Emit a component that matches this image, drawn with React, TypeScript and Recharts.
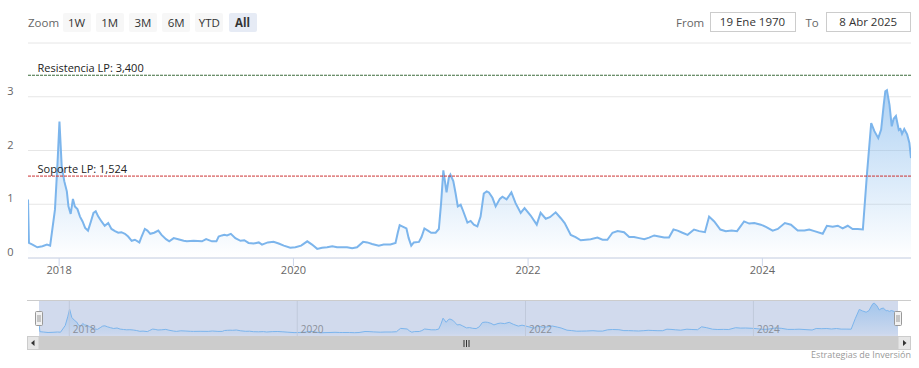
import React from 'react';
import { AreaChart, Area, XAxis, YAxis, CartesianGrid, ReferenceLine } from 'recharts';

const dates = [
  '2017-09-26','2017-09-29','2017-10-10','2017-10-25','2017-11-10','2017-11-24','2017-12-04','2017-12-19','2017-12-27',
  '2018-01-02','2018-01-09','2018-01-17','2018-01-25','2018-01-30','2018-02-06','2018-02-13','2018-02-19','2018-02-27','2018-03-07','2018-03-15','2018-03-23','2018-04-01','2018-04-10','2018-04-18','2018-04-25','2018-05-03','2018-05-13','2018-05-23','2018-06-03','2018-06-13','2018-06-24','2018-07-04','2018-07-14','2018-07-25','2018-08-04','2018-08-15','2018-08-25','2018-09-08','2018-09-15','2018-09-25','2018-10-03','2018-10-12','2018-10-24','2018-11-06','2018-11-16','2018-11-30','2018-12-10','2018-12-24',
  '2019-01-07','2019-01-24','2019-02-03','2019-02-24','2019-03-22','2019-04-04','2019-04-22','2019-05-06','2019-05-13','2019-05-23','2019-05-31','2019-06-08','2019-06-20','2019-07-04','2019-07-20','2019-08-01','2019-08-14','2019-08-30','2019-09-15','2019-09-25','2019-10-13','2019-10-31','2019-11-16','2019-12-02','2019-12-22',
  '2020-01-07','2020-01-25','2020-02-13','2020-02-28','2020-03-15','2020-03-30','2020-04-15','2020-05-01','2020-05-16','2020-05-26','2020-06-16','2020-07-02','2020-07-17','2020-08-05','2020-08-18','2020-09-02','2020-09-23','2020-10-08','2020-10-29','2020-11-14','2020-11-21','2020-11-27','2020-12-08','2020-12-18','2020-12-25',
  '2021-01-02','2021-01-10','2021-01-26','2021-02-03','2021-02-12','2021-02-23','2021-03-05','2021-03-19','2021-03-29','2021-04-05','2021-04-12','2021-04-22','2021-04-29','2021-05-04','2021-05-13','2021-05-20','2021-05-27','2021-06-05','2021-06-13','2021-06-26','2021-07-06','2021-07-16','2021-07-27','2021-08-06','2021-08-16','2021-08-25','2021-09-01','2021-09-12','2021-09-22','2021-10-05','2021-10-13','2021-10-26','2021-11-10','2021-11-23','2021-12-09','2021-12-21',
  '2022-01-09','2022-01-28','2022-02-09','2022-02-25','2022-03-10','2022-03-28','2022-04-13','2022-04-25','2022-05-14','2022-05-29','2022-06-14','2022-06-30','2022-07-15','2022-08-05','2022-08-21','2022-09-05','2022-09-21','2022-10-07','2022-10-27','2022-11-12','2022-11-27','2022-12-13','2022-12-29',
  '2023-01-13','2023-01-29','2023-02-13','2023-03-01','2023-03-16','2023-03-30','2023-04-12','2023-04-27','2023-05-13','2023-06-02','2023-06-18','2023-07-06','2023-07-19','2023-08-04','2023-08-23','2023-09-09','2023-09-27','2023-10-14','2023-11-05','2023-11-21','2023-12-07','2023-12-27',
  '2024-01-12','2024-02-02','2024-02-18','2024-03-11','2024-03-30','2024-04-20','2024-05-11','2024-05-26','2024-06-11','2024-07-07','2024-07-20','2024-08-07','2024-08-23','2024-09-07','2024-09-23','2024-10-08','2024-10-24','2024-11-09','2024-11-22','2024-12-05','2024-12-15','2024-12-27',
  '2025-01-05','2025-01-13','2025-01-18','2025-01-23','2025-01-31','2025-02-07','2025-02-13','2025-02-20','2025-03-01','2025-03-06','2025-03-11','2025-03-18','2025-03-27','2025-04-03','2025-04-08',
];

const values = [
  1.09, 0.28, 0.25, 0.20, 0.22, 0.25, 0.23, 0.90, 1.77,
  2.54, 1.71, 1.43, 1.24, 0.96, 0.82, 1.10, 0.96, 0.91, 0.77, 0.68, 0.56, 0.51, 0.68, 0.84, 0.87, 0.77, 0.68, 0.60, 0.65, 0.54, 0.50, 0.47, 0.48, 0.45, 0.40, 0.32, 0.34, 0.29, 0.40, 0.54, 0.51, 0.45, 0.47, 0.51, 0.43, 0.35, 0.31, 0.37,
  0.35, 0.32, 0.31, 0.32, 0.31, 0.35, 0.31, 0.31, 0.40, 0.42, 0.43, 0.42, 0.45, 0.37, 0.32, 0.33, 0.28, 0.27, 0.29, 0.25, 0.29, 0.30, 0.27, 0.23, 0.19,
  0.20, 0.23, 0.31, 0.25, 0.17, 0.19, 0.20, 0.22, 0.20, 0.20, 0.20, 0.18, 0.20, 0.30, 0.29, 0.26, 0.23, 0.25, 0.25, 0.28, 0.47, 0.61, 0.58, 0.55, 0.37,
  0.23, 0.29, 0.30, 0.39, 0.55, 0.51, 0.47, 0.47, 0.54, 1.02, 1.63, 1.22, 1.49, 1.55, 1.43, 1.21, 0.96, 0.99, 0.87, 0.66, 0.69, 0.62, 0.59, 0.77, 1.20, 1.24, 1.22, 1.12, 0.96, 1.10, 1.14, 1.09, 1.22, 1.02, 0.84, 0.93,
  0.79, 0.62, 0.84, 0.73, 0.76, 0.85, 0.74, 0.65, 0.43, 0.39, 0.33, 0.34, 0.35, 0.38, 0.34, 0.34, 0.47, 0.50, 0.48, 0.39, 0.39, 0.37, 0.35,
  0.38, 0.42, 0.40, 0.38, 0.38, 0.53, 0.51, 0.47, 0.43, 0.53, 0.50, 0.48, 0.77, 0.68, 0.53, 0.50, 0.51, 0.50, 0.68, 0.64, 0.65, 0.62,
  0.58, 0.51, 0.54, 0.65, 0.62, 0.51, 0.51, 0.53, 0.50, 0.45, 0.60, 0.58, 0.60, 0.55, 0.60, 0.54, 0.54, 0.53, 1.58, 2.51, 2.36, 2.23,
  2.39, 2.85, 3.10, 3.12, 2.85, 2.45, 2.59, 2.64, 2.38, 2.40, 2.31, 2.40, 2.30, 2.14, 1.86,
];

const yTicks = [0, 1, 2, 3, 4];
const yearTickDates = ['2018-01-01', '2020-01-01', '2022-01-01', '2024-01-01'];
const rangeButtons = ['1W', '1M', '3M', '6M', 'YTD', 'All'];
const selectedRange = 'All';
const zoomLabel = 'Zoom';
const fromLabel = 'From';
const toLabel = 'To';
const fromValue = '19 Ene 1970';
const toValue = '8 Abr 2025';
const resistanceLabel = 'Resistencia LP';
const resistanceValue = 3.4;
const supportLabel = 'Soporte LP';
const supportValue = 1.524;
const creditsText = 'Estrategias de Inversión';

const toTs = (s: string) => Date.parse(s + 'T00:00:00Z');
const data = dates.map((d, i) => ({ t: toTs(d), v: values[i] }));
const yearTicks = yearTickDates.map(toTs);
const xDomain = [data[0].t, data[data.length - 1].t];
const fmt = (n: number) => n.toFixed(3).replace('.', ',');

const FONT = '"Open Sans", sans-serif';

const MainYTick = (props: any) => {
  const { y, payload } = props;
  if (payload.value === 4) return null;
  return (
    <text x={13.5} y={y - 2} textAnchor="end" fontSize={11} fill="#666" fontFamily={FONT}>
      {payload.value}
    </text>
  );
};

const MainXTick = (props: any) => {
  const { x, y, payload } = props;
  return (
    <text x={x} y={y + 6} textAnchor="middle" fontSize={11} fill="#666" fontFamily={FONT}>
      {new Date(payload.value).getUTCFullYear()}
    </text>
  );
};

const plotLineLabel = (text: string) => (props: any) => {
  const vb = props.viewBox || {};
  return (
    <text x={(vb.x || 0) + 9.5} y={(vb.y || 0) - 3.5} fontSize={11} fill="#222" fontFamily={FONT}>
      {text}
    </text>
  );
};

const navLabel = (text: string) => (props: any) => {
  const vb = props.viewBox || {};
  return (
    <text x={(vb.x || 0) + 3.5} y={33} fontSize={10} fill="#8a8f99" fontFamily={FONT}>
      {text}
    </text>
  );
};

export default function App() {
  return (
    <div style={{ position: 'absolute', left: 0, top: 0, width: 919, height: 368, background: '#fff', fontFamily: FONT, overflow: 'hidden' }}>
      {/* Range selector */}
      <div style={{ position: 'absolute', left: 28, top: 13, height: 19, lineHeight: '19px', fontSize: 11.5, color: '#666' }}>{zoomLabel}</div>
      {rangeButtons.map((b, i) => (
        <div
          key={b}
          style={{
            position: 'absolute', left: 62.5 + i * 33.2, top: 12.5, width: 28, height: 19, lineHeight: '19px',
            textAlign: 'center', fontSize: 11.5, color: '#333', fontWeight: b === selectedRange ? 700 : 400,
            background: b === selectedRange ? '#e6ebf5' : '#f7f7f7', borderRadius: 2,
          }}
        >
          {b}
        </div>
      ))}
      <div style={{ position: 'absolute', left: 676, top: 13, height: 19, lineHeight: '19px', fontSize: 11.5, color: '#666' }}>{fromLabel}</div>
      <div style={{ position: 'absolute', left: 709.5, top: 12, width: 84, height: 18, lineHeight: '18px', textAlign: 'center', fontSize: 11.5, color: '#333', border: '1px solid #ccc' }}>{fromValue}</div>
      <div style={{ position: 'absolute', left: 805.5, top: 13, height: 19, lineHeight: '19px', fontSize: 11.5, color: '#666' }}>{toLabel}</div>
      <div style={{ position: 'absolute', left: 825.5, top: 12, width: 83.5, height: 18, lineHeight: '18px', textAlign: 'center', fontSize: 11.5, color: '#333', border: '1px solid #ccc' }}>{toValue}</div>

      {/* Main chart */}
      <div style={{ position: 'absolute', left: 0, top: 0 }}>
        <AreaChart width={919} height={288} data={data} margin={{ top: 43, right: 8, left: 0, bottom: 0 }}>
          <defs>
            <linearGradient id="mainFill" x1="0" y1="0" x2="0" y2="1">
              <stop offset="0%" stopColor="#7cb5ec" stopOpacity={1} />
              <stop offset="100%" stopColor="#7cb5ec" stopOpacity={0} />
            </linearGradient>
          </defs>
          <CartesianGrid vertical={false} stroke="#e6e6e6" />
          <XAxis
            dataKey="t" type="number" domain={xDomain} ticks={yearTicks} interval={0} allowDataOverflow
            height={30} tickSize={8} tickMargin={2} axisLine={{ stroke: '#ccd6eb' }} tickLine={{ stroke: '#ccd6eb' }}
            tick={<MainXTick />}
          />
          <YAxis
            type="number" domain={[0, 4]} ticks={yTicks} interval={0} width={28}
            axisLine={false} tickLine={false} tick={<MainYTick />}
          />
          <Area
            type="linear" dataKey="v" stroke="#7cb5ec" strokeWidth={2} fill="url(#mainFill)"
            isAnimationActive={false} dot={false} activeDot={false}
          />
          <ReferenceLine y={resistanceValue} stroke="#3b6b3b" strokeDasharray="3 1" label={plotLineLabel(`${resistanceLabel}: ${fmt(resistanceValue)}`)} />
          <ReferenceLine y={supportValue} stroke="#cc3333" strokeDasharray="3 1" label={plotLineLabel(`${supportLabel}: ${fmt(supportValue)}`)} />
        </AreaChart>
      </div>

      {/* Navigator mask (behind series) */}
      <div style={{ position: 'absolute', left: 39, top: 300, width: 859, height: 36, background: 'rgba(102,133,194,0.3)' }} />

      {/* Navigator chart */}
      <div style={{ position: 'absolute', left: 0, top: 300 }}>
        <AreaChart width={919} height={36} data={data} margin={{ top: 0, right: 21, left: 39, bottom: 0 }}>
          <defs>
            <linearGradient id="navFill" x1="0" y1="0" x2="0" y2="1">
              <stop offset="0%" stopColor="#7cb5ec" stopOpacity={0.9} />
              <stop offset="100%" stopColor="#7cb5ec" stopOpacity={0.1} />
            </linearGradient>
          </defs>
          <XAxis dataKey="t" type="number" domain={xDomain} hide allowDataOverflow />
          <YAxis type="number" domain={[-0.15, 3.45]} hide allowDataOverflow />
          {yearTicks.map((t) => (
            <ReferenceLine key={t} x={t} stroke="#c0c9db" label={navLabel(String(new Date(t).getUTCFullYear()))} />
          ))}
          <Area
            type="linear" dataKey="v" stroke="#7cb5ec" strokeWidth={1} fill="url(#navFill)"
            isAnimationActive={false} dot={false} activeDot={false}
          />
        </AreaChart>
      </div>

      {/* Navigator outline, handles and scrollbar */}
      <svg width={919} height={368} style={{ position: 'absolute', left: 0, top: 0, pointerEvents: 'none' }}>
        <line x1={27} x2={911} y1={300.5} y2={300.5} stroke="#cccccc" />
        {[39, 898].map((cx) => (
          <g key={cx}>
            <rect x={cx - 3.5} y={311.5} width={7} height={14} fill="#f2f2f2" stroke="#999" rx={1} />
            <line x1={cx - 1} x2={cx - 1} y1={315} y2={322} stroke="#999" />
            <line x1={cx + 1} x2={cx + 1} y1={315} y2={322} stroke="#999" />
          </g>
        ))}
        <rect x={27} y={336} width={884} height={14} fill="#f2f2f2" />
        <rect x={39} y={336} width={859} height={14} fill="#cccccc" />
        <rect x={27.5} y={336.5} width={11.5} height={13} fill="#e6e6e6" stroke="#cccccc" />
        <path d="M34.5 340 L31 343 L34.5 346 Z" fill="#333" />
        <rect x={898} y={336.5} width={12.5} height={13} fill="#e6e6e6" stroke="#cccccc" />
        <path d="M903 340 L906.5 343 L903 346 Z" fill="#333" />
        {[464, 466.5, 469].map((gx) => (
          <line key={gx} x1={gx} x2={gx} y1={340} y2={347} stroke="#333" />
        ))}
      </svg>

      {/* Credits */}
      <div style={{ position: 'absolute', right: 8, top: 349, lineHeight: '12px', fontSize: 9, color: '#999' }}>{creditsText}</div>
    </div>
  );
}
